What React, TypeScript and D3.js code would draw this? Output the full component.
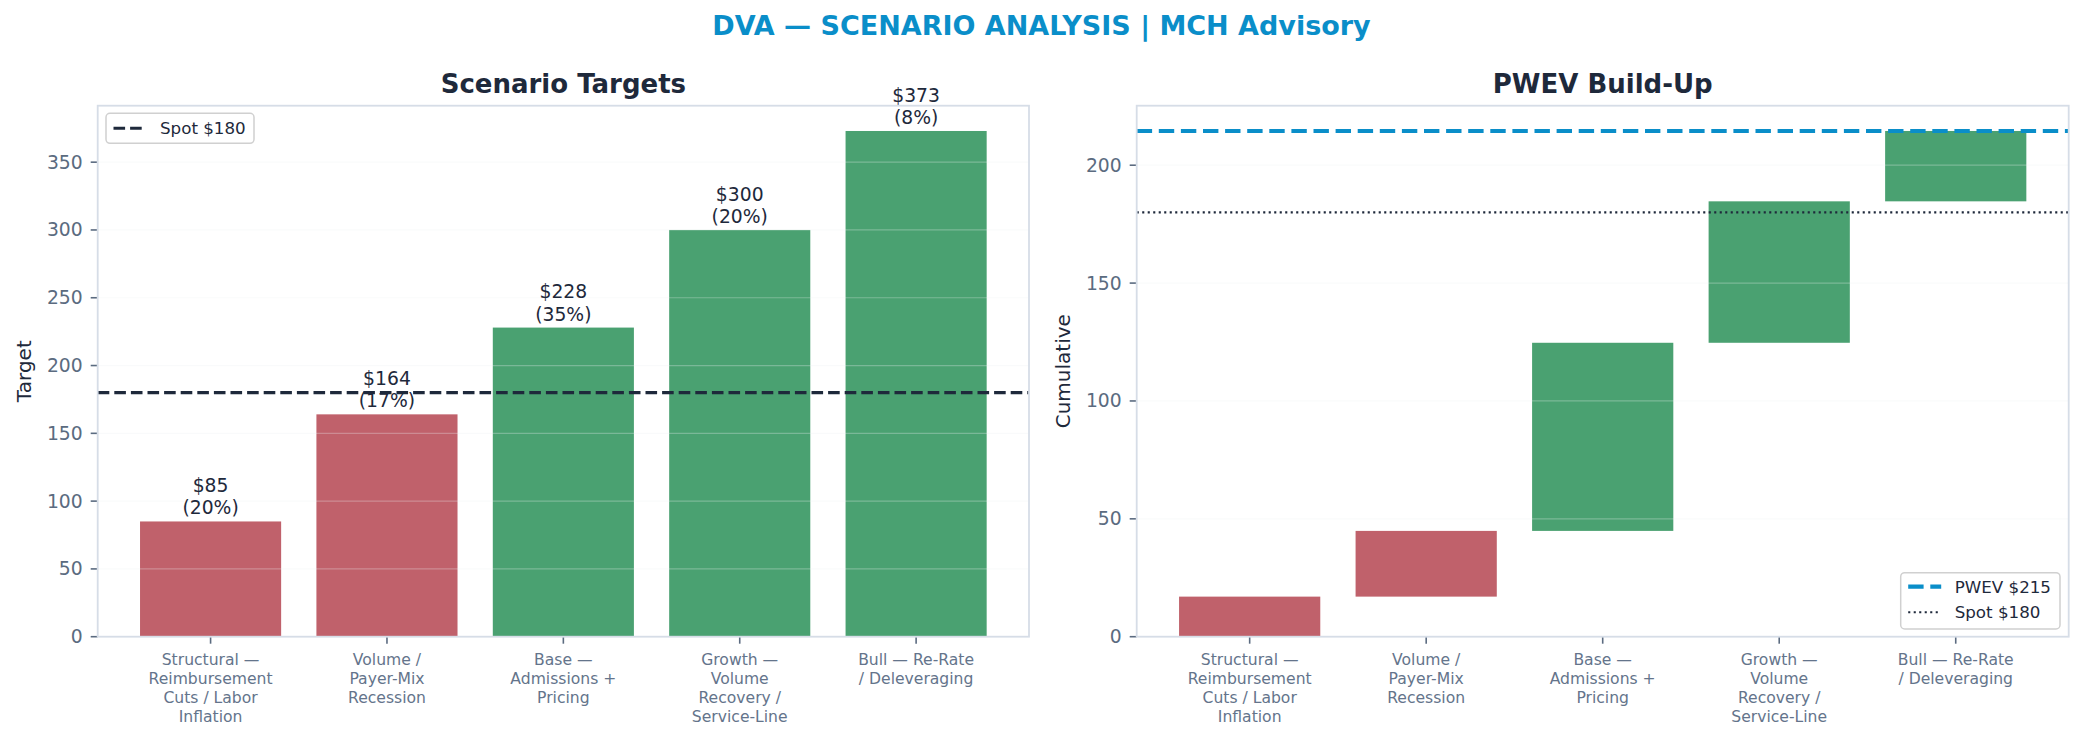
import React, { useEffect, useRef } from 'react';
import * as d3 from 'd3';

// scenario data
const scenarios = [
  ['Structural —', 'Reimbursement', 'Cuts / Labor', 'Inflation'],
  ['Volume /', 'Payer-Mix', 'Recession'],
  ['Base —', 'Admissions +', 'Pricing'],
  ['Growth —', 'Volume', 'Recovery /', 'Service-Line'],
  ['Bull — Re-Rate', '/ Deleveraging'],
];
const targets = [85, 164, 228, 300, 373];
const probs = [0.2, 0.17, 0.35, 0.2, 0.08];
const spot = 180;
const leftTicks = [0, 50, 100, 150, 200, 250, 300, 350];
const rightTicks = [0, 50, 100, 150, 200];

const W = 2083;
const H = 742;
const FONT = '"DejaVu Sans", Verdana, sans-serif';
const RED = '#c0616b';
const GREEN = '#4aa171';
const BLUE = '#0a8ec9';
const NAVY = '#1e293b';
const TICK = '#5b6b80';
const SPINE = '#d6dde7';

export default function App() {
  const svgRef = useRef<SVGSVGElement>(null);

  useEffect(() => {
    if (!svgRef.current) return;
    const svg = d3.select(svgRef.current);
    svg.selectAll('*').remove();

    const top = 105.7;
    const bottom = 636.7;
    const idx = scenarios.map((_, i) => String(i));

    // waterfall pieces
    const contrib = targets.map((t, i) => t * probs[i]);
    const starts: number[] = [];
    contrib.reduce((acc, c) => {
      starts.push(acc);
      return acc + c;
    }, 0);
    const pwev = d3.sum(contrib);

    const colorFor = (i: number) => (targets[i] < spot ? RED : GREEN);

    svg.append('text')
      .attr('x', W / 2)
      .attr('y', 35)
      .attr('text-anchor', 'middle')
      .style('font-family', FONT)
      .style('font-weight', 'bold')
      .style('font-size', '27px')
      .style('fill', BLUE)
      .text('DVA — SCENARIO ANALYSIS | MCH Advisory');

    const drawPanel = (
      left: number,
      right: number,
      title: string,
      ylabel: string,
      ymax: number,
      ticks: number[],
    ) => {
      const x = d3.scaleBand<string>()
        .domain(idx)
        .range([left, right])
        .paddingInner(0.2)
        .paddingOuter(0.24);
      const y = d3.scaleLinear().domain([0, ymax]).range([bottom, top]);
      const g = svg.append('g');

      // Title
      g.append('text')
        .attr('x', (left + right) / 2)
        .attr('y', top - 12.5)
        .attr('text-anchor', 'middle')
        .style('font-family', FONT)
        .style('font-weight', 'bold')
        .style('font-size', '26px')
        .style('fill', NAVY)
        .text(title);

      // Y label
      g.append('text')
        .attr('transform', `translate(${left - 67}, ${(top + bottom) / 2}) rotate(-90)`)
        .attr('text-anchor', 'middle')
        .style('font-family', FONT)
        .style('font-size', '20px')
        .style('fill', NAVY)
        .text(ylabel);

      // Y ticks
      const yt = g.append('g');
      ticks.forEach(t => {
        yt.append('line')
          .attr('x1', left - 7).attr('x2', left)
          .attr('y1', y(t)).attr('y2', y(t))
          .style('stroke', TICK).style('stroke-width', 1.6);
        yt.append('text')
          .attr('x', left - 15)
          .attr('y', y(t))
          .attr('text-anchor', 'end')
          .attr('dominant-baseline', 'central')
          .style('font-family', FONT)
          .style('font-size', '18.75px')
          .style('fill', TICK)
          .text(t);
      });

      // X ticks
      const xt = g.append('g');
      idx.forEach((k, i) => {
        const cx = (x(k) || 0) + x.bandwidth() / 2;
        xt.append('line')
          .attr('x1', cx).attr('x2', cx)
          .attr('y1', bottom).attr('y2', bottom + 7)
          .style('stroke', TICK).style('stroke-width', 1.6);
        const txt = xt.append('text')
          .attr('text-anchor', 'middle')
          .style('font-family', FONT)
          .style('font-size', '15.6px')
          .style('fill', '#64748b');
        scenarios[i].forEach((line, j) => {
          txt.append('tspan')
            .attr('x', cx)
            .attr('y', 665 + j * 19)
            .text(line);
        });
      });

      return { g, x, y };
    };

    // Left: scenario targets
    const L = drawPanel(97.7, 1029, 'Scenario Targets', 'Target', d3.max(targets)! * 1.05, leftTicks);
    L.g.selectAll('.bar')
      .data(targets)
      .enter().append('rect')
      .attr('x', (_, i) => L.x(String(i)) || 0)
      .attr('width', L.x.bandwidth())
      .attr('y', d => L.y(d))
      .attr('height', d => bottom - L.y(d))
      .attr('fill', (_, i) => colorFor(i));

    // Right: PWEV build-up
    const R = drawPanel(1136.7, 2068.7, 'PWEV Build-Up', 'Cumulative', pwev * 1.05, rightTicks);
    R.g.selectAll('.bar')
      .data(contrib)
      .enter().append('rect')
      .attr('x', (_, i) => R.x(String(i)) || 0)
      .attr('width', R.x.bandwidth())
      .attr('y', (d, i) => R.y(starts[i] + d))
      .attr('height', (d, i) => R.y(starts[i]) - R.y(starts[i] + d))
      .attr('fill', (_, i) => colorFor(i));

    // Grid lines on top, faint
    [
      { p: L, ticks: leftTicks, l: 97.7, r: 1029 },
      { p: R, ticks: rightTicks, l: 1136.7, r: 2068.7 },
    ].forEach(({ p, ticks, l, r }) => {
      ticks.forEach(t => {
        p.g.append('line')
          .attr('x1', l).attr('x2', r)
          .attr('y1', p.y(t)).attr('y2', p.y(t))
          .style('stroke', '#eceef1')
          .style('stroke-opacity', 0.3)
          .style('stroke-width', 1.2);
      });
    });

    // Value labels
    targets.forEach((t, i) => {
      const cx = (L.x(String(i)) || 0) + L.x.bandwidth() / 2;
      const txt = L.g.append('text')
        .attr('text-anchor', 'middle')
        .style('font-family', FONT)
        .style('font-size', '18.75px')
        .style('fill', NAVY);
      txt.append('tspan').attr('x', cx).attr('y', L.y(t) - 7 - 22.4).text(`$${t}`);
      txt.append('tspan').attr('x', cx).attr('y', L.y(t) - 7).text(`(${Math.round(probs[i] * 100)}%)`);
    });

    // Reference lines
    L.g.append('line')
      .attr('x1', 97.7).attr('x2', 1029)
      .attr('y1', L.y(spot)).attr('y2', L.y(spot))
      .style('stroke', NAVY).style('stroke-width', 3.1)
      .style('stroke-dasharray', '11.6,5');
    R.g.append('line')
      .attr('x1', 1136.7).attr('x2', 2068.7)
      .attr('y1', R.y(pwev)).attr('y2', R.y(pwev))
      .style('stroke', BLUE).style('stroke-width', 4.2)
      .style('stroke-dasharray', '15.4,6.7');
    R.g.append('line')
      .attr('x1', 1136.7).attr('x2', 2068.7)
      .attr('y1', R.y(spot)).attr('y2', R.y(spot))
      .style('stroke', NAVY).style('stroke-width', 2.1)
      .style('stroke-dasharray', '2.1,3.4');

    // Spines
    [[97.7, 1029], [1136.7, 2068.7]].forEach(([l, r]) => {
      svg.append('rect')
        .attr('x', l).attr('y', top)
        .attr('width', r - l).attr('height', bottom - top)
        .style('fill', 'none')
        .style('stroke', SPINE)
        .style('stroke-width', 1.8);
    });

    // Legends
    const legend = (
      bx: number, by: number, bw: number, bh: number,
      items: { label: string; color: string; width: number; dash: string; y: number }[],
    ) => {
      const lg = svg.append('g');
      lg.append('rect')
        .attr('x', bx).attr('y', by)
        .attr('width', bw).attr('height', bh)
        .attr('rx', 4)
        .style('fill', 'white').style('fill-opacity', 0.8)
        .style('stroke', '#d0d0d0').style('stroke-width', 1.5);
      items.forEach(it => {
        lg.append('line')
          .attr('x1', bx + 7.5).attr('x2', bx + 40.5)
          .attr('y1', it.y).attr('y2', it.y)
          .style('stroke', it.color).style('stroke-width', it.width)
          .style('stroke-dasharray', it.dash);
        lg.append('text')
          .attr('x', bx + 54)
          .attr('y', it.y)
          .attr('dominant-baseline', 'central')
          .style('font-family', FONT)
          .style('font-size', '16.7px')
          .style('fill', NAVY)
          .text(it.label);
      });
    };
    legend(106, 113.3, 148, 30, [
      { label: `Spot $${spot}`, color: NAVY, width: 3.1, dash: '11.6,5', y: 128.3 },
    ]);
    legend(1900.7, 572.7, 159.3, 56.3, [
      { label: `PWEV $${Math.round(pwev)}`, color: BLUE, width: 4.2, dash: '15.4,6.7', y: 586.7 },
      { label: `Spot $${spot}`, color: NAVY, width: 2.1, dash: '2.1,3.4', y: 612.3 },
    ]);
  }, []);

  return (
    <div style={{ position: 'absolute', left: 0, top: 0, background: 'white' }}>
      <svg ref={svgRef} width={W} height={H} viewBox={`0 0 ${W} ${H}`} />
    </div>
  );
}
